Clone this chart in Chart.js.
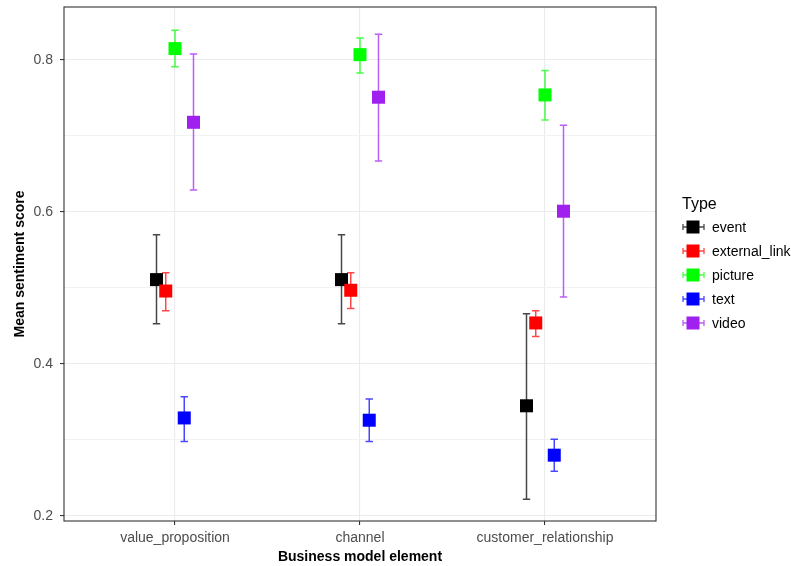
<!DOCTYPE html>
<html>
<head>
<meta charset="utf-8">
<script src="https://cdn.jsdelivr.net/npm/chart.js@4/dist/chart.umd.min.js"></script>
<style>
  html, body { margin: 0; padding: 0; background: #ffffff; }
  #wrap { width: 791px; height: 566px; position: relative; }
</style>
</head>
<body>
<div id="wrap"><canvas id="c" width="791" height="566"></canvas></div>
<script>
// Business model elements on the x axis
const categories = ['value_proposition', 'channel', 'customer_relationship'];

// Post types (legend order)
const types = ['event', 'external_link', 'picture', 'text', 'video'];
const typeColors = ['#000000', '#FF0000', '#00FF00', '#0000FF', '#A020F0'];

// Mean sentiment score and its interval, per category
const eventMean  = [0.511, 0.511, 0.345];
const eventLow   = [0.453, 0.453, 0.222];
const eventHigh  = [0.570, 0.570, 0.466];

const linkMean   = [0.496, 0.497, 0.454];
const linkLow    = [0.470, 0.473, 0.436];
const linkHigh   = [0.520, 0.520, 0.470];

const pictureMean = [0.815, 0.807, 0.754];
const pictureLow  = [0.791, 0.783, 0.721];
const pictureHigh = [0.839, 0.829, 0.786];

const textMean   = [0.329, 0.326, 0.280];
const textLow    = [0.298, 0.298, 0.259];
const textHigh   = [0.357, 0.354, 0.301];

const videoMean  = [0.718, 0.751, 0.601];
const videoLow   = [0.629, 0.667, 0.488];
const videoHigh  = [0.808, 0.834, 0.714];

// Y axis ticks
const yMajorTicks = [0.2, 0.4, 0.6, 0.8];
const yMinorTicks = [0.3, 0.5, 0.7];

const seriesMeans = [eventMean, linkMean, pictureMean, textMean, videoMean];
const seriesLows  = [eventLow, linkLow, pictureLow, textLow, videoLow];
const seriesHighs = [eventHigh, linkHigh, pictureHigh, textHigh, videoHigh];

// dodge: spread the five types across 0.2 x-units around each category
const DODGE = 0.2;
const CAP = 0.04;
const nTypes = types.length;
function dodgeOffset(i) { return -DODGE / 2 + DODGE / (nTypes - 1) * i; }

function withAlpha(hex, a) {
  const r = parseInt(hex.slice(1, 3), 16), g = parseInt(hex.slice(3, 5), 16), b = parseInt(hex.slice(5, 7), 16);
  return `rgba(${r},${g},${b},${a})`;
}

const datasets = types.map((t, i) => ({
  label: t,
  data: categories.map((c, k) => ({ x: k + 1 + dodgeOffset(i), y: seriesMeans[i][k], lo: seriesLows[i][k], hi: seriesHighs[i][k] })),
  backgroundColor: typeColors[i],
  borderColor: typeColors[i],
  borderWidth: 0,
  pointStyle: 'rect',
  pointRadius: 9.2,
  pointHoverRadius: 9.2,
  order: -i
}));

const isMajor = v => yMajorTicks.some(m => Math.abs(m - v) < 1e-9);

// error bars drawn beneath the squares
const errorBars = {
  id: 'errorBars',
  beforeDatasetsDraw(chart) {
    const { ctx, scales: { x, y } } = chart;
    ctx.save();
    chart.data.datasets.forEach((ds, i) => {
      ctx.strokeStyle = withAlpha(typeColors[i], 0.72);
      ctx.lineWidth = 1.5;
      ds.data.forEach(p => {
        const px = x.getPixelForValue(p.x);
        const cl = x.getPixelForValue(p.x - CAP / 2);
        const cr = x.getPixelForValue(p.x + CAP / 2);
        const yl = y.getPixelForValue(p.lo);
        const yh = y.getPixelForValue(p.hi);
        ctx.beginPath();
        ctx.moveTo(px, yl); ctx.lineTo(px, yh);
        ctx.moveTo(cl, yl); ctx.lineTo(cr, yl);
        ctx.moveTo(cl, yh); ctx.lineTo(cr, yh);
        ctx.stroke();
      });
    });
    ctx.restore();
  }
};

// panel border
const panelBorder = {
  id: 'panelBorder',
  afterDatasetsDraw(chart) {
    const { ctx, chartArea: a } = chart;
    ctx.save();
    ctx.strokeStyle = '#333333';
    ctx.lineWidth = 1.1;
    ctx.strokeRect(a.left, a.top, a.right - a.left, a.bottom - a.top);
    ctx.restore();
  }
};

// legend with title and errorbar+square keys
const typeLegend = {
  id: 'typeLegend',
  afterDraw(chart) {
    const { ctx } = chart;
    ctx.save();
    ctx.fillStyle = '#000000';
    ctx.font = '16px "Liberation Sans", Arial, sans-serif';
    ctx.textBaseline = 'alphabetic';
    ctx.textAlign = 'left';
    ctx.fillText('Type', 682, 209);
    const keyX = 693, top = 227, step = 24;
    types.forEach((t, i) => {
      const cy = top + i * step;
      ctx.strokeStyle = withAlpha(typeColors[i], 0.72);
      ctx.lineWidth = 1.3;
      ctx.beginPath();
      ctx.moveTo(keyX - 10, cy); ctx.lineTo(keyX + 11, cy);
      ctx.moveTo(keyX - 10, cy - 3); ctx.lineTo(keyX - 10, cy + 3);
      ctx.moveTo(keyX + 11, cy - 3); ctx.lineTo(keyX + 11, cy + 3);
      ctx.stroke();
      ctx.fillStyle = typeColors[i];
      ctx.fillRect(keyX - 6.5, cy - 6.5, 13, 13);
      ctx.fillStyle = '#000000';
      ctx.font = '14px "Liberation Sans", Arial, sans-serif';
      ctx.textBaseline = 'middle';
      ctx.fillText(t, 712, cy + 1);
    });
    ctx.restore();
  }
};

new Chart(document.getElementById('c'), {
  type: 'scatter',
  data: { datasets },
  options: {
    responsive: false,
    devicePixelRatio: 1,
    animation: false,
    events: [],
    layout: { autoPadding: false, padding: { top: 7, right: 135, left: 0, bottom: 0 } },
    plugins: { legend: { display: false }, tooltip: { enabled: false } },
    scales: {
      x: {
        type: 'linear',
        min: 0.4,
        max: 3.6,
        afterBuildTicks: s => { s.ticks = categories.map((c, k) => ({ value: k + 1 })); },
        afterFit: s => { s.height = 45; s.paddingLeft = 0; s.paddingRight = 0; },
        ticks: {
          autoSkip: false,
          maxRotation: 0,
          padding: 5,
          color: '#4D4D4D',
          font: { family: '"Liberation Sans", Arial, sans-serif', size: 14 },
          callback: v => categories[Math.round(v) - 1]
        },
        grid: { color: '#EBEBEB', lineWidth: 1.1, tickLength: 4, tickColor: '#333333', drawTicks: true },
        border: { display: false },
        title: {
          display: true,
          text: 'Business model element',
          color: '#000000',
          font: { family: '"Liberation Sans", Arial, sans-serif', size: 14, weight: 'bold' },
          padding: { top: 0, bottom: 0 }
        }
      },
      y: {
        type: 'linear',
        min: 0.1934,
        max: 0.8697,
        afterBuildTicks: s => {
          s.ticks = yMajorTicks.concat(yMinorTicks).sort((a, b) => a - b).map(v => ({ value: v }));
        },
        afterFit: s => { s.width = 64; s.paddingTop = 0; s.paddingBottom = 0; },
        ticks: {
          padding: 7,
          color: '#4D4D4D',
          font: { family: '"Liberation Sans", Arial, sans-serif', size: 14 },
          callback: v => isMajor(v) ? v.toFixed(1) : ''
        },
        grid: {
          color: c => (c.tick && isMajor(c.tick.value)) ? '#EBEBEB' : '#F1F1F1',
          lineWidth: c => (c.tick && isMajor(c.tick.value)) ? 1.1 : 0.9,
          tickLength: 4,
          tickColor: c => (c.tick && isMajor(c.tick.value)) ? '#333333' : 'rgba(0,0,0,0)',
          drawTicks: true
        },
        border: { display: false },
        title: {
          display: true,
          text: 'Mean sentiment score',
          color: '#000000',
          font: { family: '"Liberation Sans", Arial, sans-serif', size: 14, weight: 'bold' },
          padding: { top: 11.5, bottom: 0 }
        }
      }
    }
  },
  plugins: [errorBars, panelBorder, typeLegend]
});
</script>
</body>
</html>
